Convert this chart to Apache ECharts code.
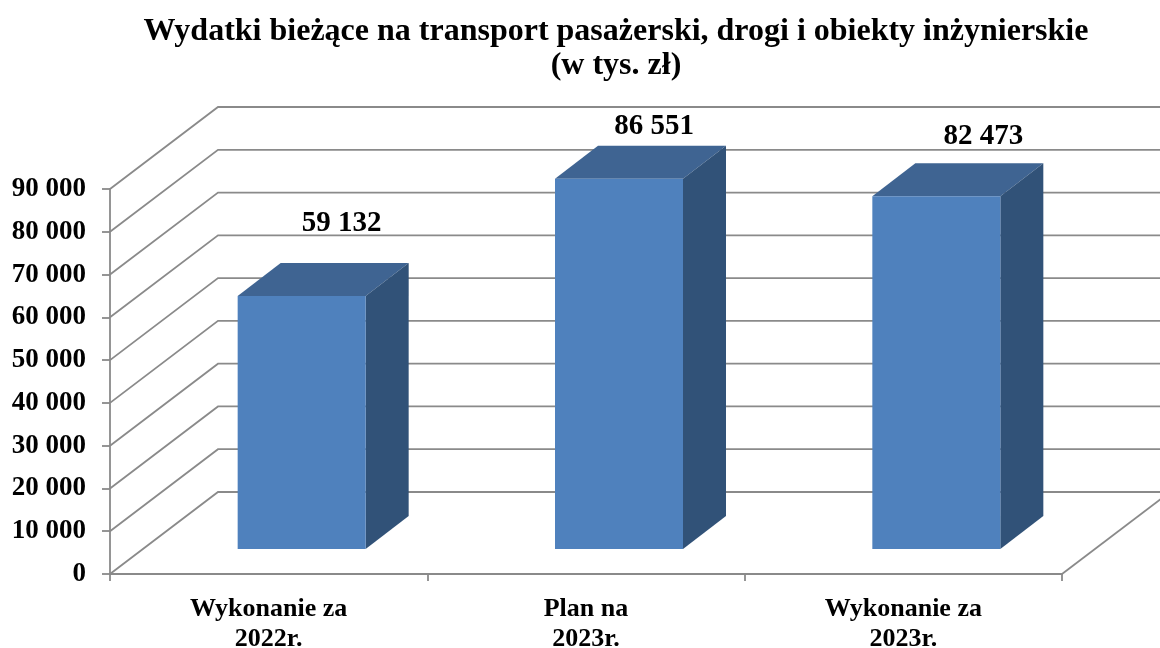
<!DOCTYPE html>
<html>
<head>
<meta charset="utf-8">
<style>
  html, body { margin: 0; padding: 0; background: #fff; }
  #chart { width: 1160px; height: 648px; }
</style>
<script src="https://cdn.jsdelivr.net/npm/echarts@6/dist/echarts.min.js"></script>
</head>
<body>
<div id="chart"></div>
<script>
// dane
const categories = ["Wykonanie za\n2022r.", "Plan na\n2023r.", "Wykonanie za\n2023r."];
const values = [59132, 86551, 82473];
const yTicks = [0, 10000, 20000, 30000, 40000, 50000, 60000, 70000, 80000, 90000];

// przesuniecia 3D w pikselach
const wallDx = 108;
const wallDy = 82;
const barDx = 43;
const barDy = 33;
const floorDx = 33;
const floorDy = 25;
const barWidth = 128;
// etykiety wartosci stoja troche inaczej nad kazdym slupkiem
const labelShiftX = [40, 35, 47];
const labelShiftY = [73, 52, 60];

const font = '"Liberation Serif", "Times New Roman", serif';
const gridColor = "#8a8a8a";

function fmt(v) {
  return String(v).replace(/\B(?=(\d{3})+$)/g, " ");
}

function renderWall(params, api) {
  const cs = params.coordSys;
  const val = api.value(0);
  const y = api.coord([0, val])[1];
  const left = cs.x;
  const right = cs.x + cs.width;
  const children = [{
    type: "polyline",
    shape: { points: [[left, y], [left + wallDx, y - wallDy], [right + wallDx, y - wallDy]] },
    style: { stroke: gridColor, lineWidth: 1.8, fill: null }
  }];
  if (val === 0) {
    // prawa krawedz podlogi
    children.push({
      type: "line",
      shape: { x1: right, y1: y, x2: right + wallDx, y2: y - wallDy },
      style: { stroke: gridColor, lineWidth: 1.8 }
    });
  }
  return { type: "group", children: children };
}

function renderBar(params, api) {
  const idx = api.value(0);
  const top = api.coord([idx, api.value(1)]);
  const base = api.coord([idx, 0]);
  const x1 = top[0] + floorDx - barWidth / 2;
  const x2 = x1 + barWidth;
  const yTop = top[1] - floorDy;
  const yBase = base[1] - floorDy;
  return {
    type: "group",
    children: [
      {
        type: "polygon",
        shape: { points: [[x1, yTop], [x1 + barDx, yTop - barDy], [x2 + barDx, yTop - barDy], [x2, yTop]] },
        style: { fill: "#3f6492" }
      },
      {
        type: "polygon",
        shape: { points: [[x2, yTop], [x2 + barDx, yTop - barDy], [x2 + barDx, yBase - barDy], [x2, yBase]] },
        style: { fill: "#315278" }
      },
      {
        type: "rect",
        shape: { x: x1, y: yTop, width: barWidth, height: yBase - yTop },
        style: { fill: "#4f81bd" }
      },
      {
        type: "text",
        x: top[0] + floorDx + labelShiftX[idx],
        y: yTop - labelShiftY[idx],
        style: {
          text: fmt(api.value(1)),
          fill: "#000",
          font: "bold 29px " + font,
          align: "center",
          verticalAlign: "middle"
        }
      }
    ]
  };
}

const myChart = echarts.init(document.getElementById("chart"), null, { renderer: "canvas" });
myChart.setOption({
  animation: false,
  backgroundColor: "#fff",
  title: {
    text: "Wydatki bieżące na transport pasażerski, drogi i obiekty inżynierskie\n(w tys. zł)",
    left: 616,
    top: 15,
    textAlign: "center",
    textStyle: { fontFamily: font, fontWeight: "bold", fontSize: 32, lineHeight: 34, color: "#000" },
    padding: [0, 9, 0, 0]
  },
  // bez outerBounds, etykiety osi x maja zostac tam gdzie sa
  grid: { left: 110, right: 98, top: 189, bottom: 74, outerBoundsMode: "none" },
  xAxis: {
    type: "category",
    data: categories,
    axisLine: { lineStyle: { color: gridColor, width: 1.8 } },
    axisTick: { show: true, alignWithLabel: false, length: 7, lineStyle: { color: gridColor, width: 1.8 } },
    axisLabel: {
      interval: 0,
      margin: 20,
      fontFamily: font,
      fontWeight: "bold",
      fontSize: 26,
      lineHeight: 30,
      color: "#000"
    }
  },
  yAxis: {
    type: "value",
    min: 0,
    max: 90000,
    interval: 10000,
    splitLine: { show: false },
    axisLine: { show: true, lineStyle: { color: gridColor, width: 1.8 } },
    axisTick: { show: true, length: 8, lineStyle: { color: gridColor, width: 1.8 } },
    axisLabel: {
      margin: 24,
      fontFamily: font,
      fontWeight: "bold",
      fontSize: 27,
      color: "#000",
      formatter: fmt
    }
  },
  series: [
    {
      type: "custom",
      name: "siatka",
      silent: true,
      clip: false,
      z: 1,
      renderItem: renderWall,
      encode: { y: 0 },
      data: yTicks.map(function (v) { return [v]; })
    },
    {
      type: "custom",
      name: "Wydatki",
      silent: true,
      clip: false,
      z: 2,
      renderItem: renderBar,
      encode: { x: 0, y: 1 },
      data: values.map(function (v, i) { return [i, v]; })
    }
  ]
});
window.addEventListener("resize", () => {
  myChart.resize();
});
</script>
</body>
</html>
